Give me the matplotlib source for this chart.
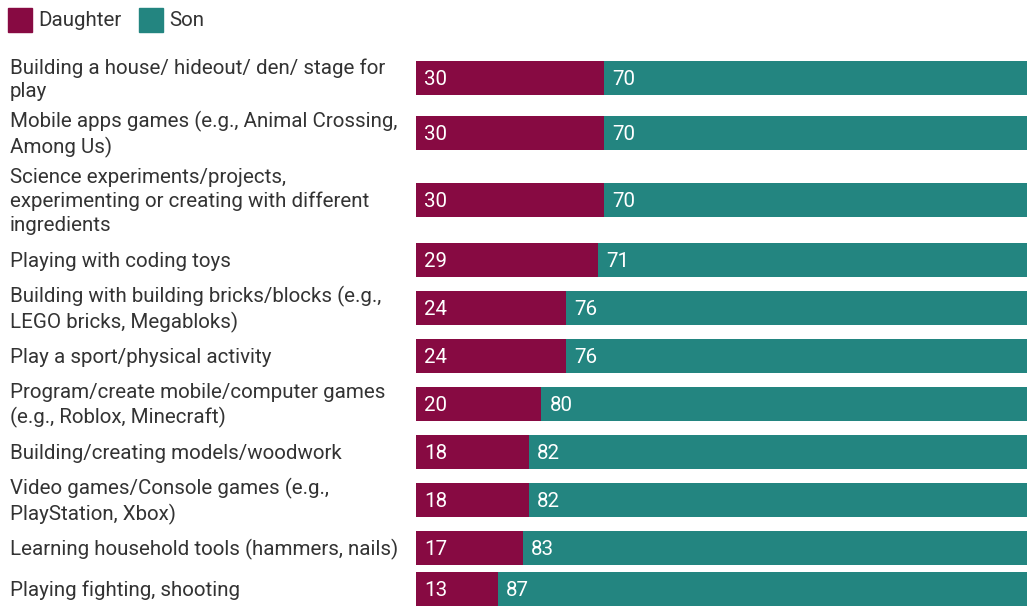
import matplotlib.pyplot as plt
from matplotlib.patches import Rectangle

plt.rcParams['font.family'] = ['Roboto', 'DejaVu Sans']

activities = [
    'Building a house/ hideout/ den/ stage for\nplay',
    'Mobile apps games (e.g., Animal Crossing,\nAmong Us)',
    'Science experiments/projects,\nexperimenting or creating with different\ningredients',
    'Playing with coding toys',
    'Building with building bricks/blocks (e.g.,\nLEGO bricks, Megabloks)',
    'Play a sport/physical activity',
    'Program/create mobile/computer games\n(e.g., Roblox, Minecraft)',
    'Building/creating models/woodwork',
    'Video games/Console games (e.g.,\nPlayStation, Xbox)',
    'Learning household tools (hammers, nails)',
    'Playing fighting, shooting',
]
daughter = [30, 30, 30, 29, 24, 24, 20, 18, 18, 17, 13]
son = [70, 70, 70, 71, 76, 76, 80, 82, 82, 83, 87]

DAUGHTER_COLOR = '#870a42'
SON_COLOR = '#238580'
TEXT_COLOR = '#333333'
FS = 14.8

W, H = 1027, 607
fig = plt.figure(figsize=(W / 100, H / 100), dpi=100)

# rows grow with the number of label lines; work in pixel units top-down
bar_h = 34
line_h = 24
heights = [max(bar_h, line_h * (a.count('\n') + 1)) + 7 for a in activities]
centers = []
top = 50
for h in heights:
    centers.append(top + h / 2)
    top += h

bar_left = 416
bar_width = 627  # full 100% bar runs a little past the right edge
ax = fig.add_axes([bar_left / W, 0, bar_width / W, 1])
ax.set_xlim(0, 100)
ax.set_ylim(H, 0)
ax.axis('off')

ax.barh(centers, daughter, height=bar_h, color=DAUGHTER_COLOR, linewidth=0)
ax.barh(centers, son, left=daughter, height=bar_h, color=SON_COLOR, linewidth=0)

pad = 8 * 100 / bar_width
for y, d, s in zip(centers, daughter, son):
    ax.text(pad, y + 2, str(d), color='white', fontsize=FS, va='center', ha='left')
    ax.text(d + pad, y + 2, str(s), color='white', fontsize=FS, va='center', ha='left')

# category labels on the left
for y, label in zip(centers, activities):
    fig.text(10 / W, 1 - (y + 2) / H, label, color=TEXT_COLOR, fontsize=FS,
             va='center', ha='left', linespacing=1.3)

# legend
for x0, name, color in [(8, 'Daughter', DAUGHTER_COLOR), (139, 'Son', SON_COLOR)]:
    fig.patches.append(Rectangle((x0 / W, 1 - 32 / H), 24 / W, 24 / H,
                                 transform=fig.transFigure, color=color))
    fig.text((x0 + 30) / W, 1 - 21 / H, name, color=TEXT_COLOR, fontsize=FS,
             va='center', ha='left')

fig.savefig('out.png', dpi=100)
